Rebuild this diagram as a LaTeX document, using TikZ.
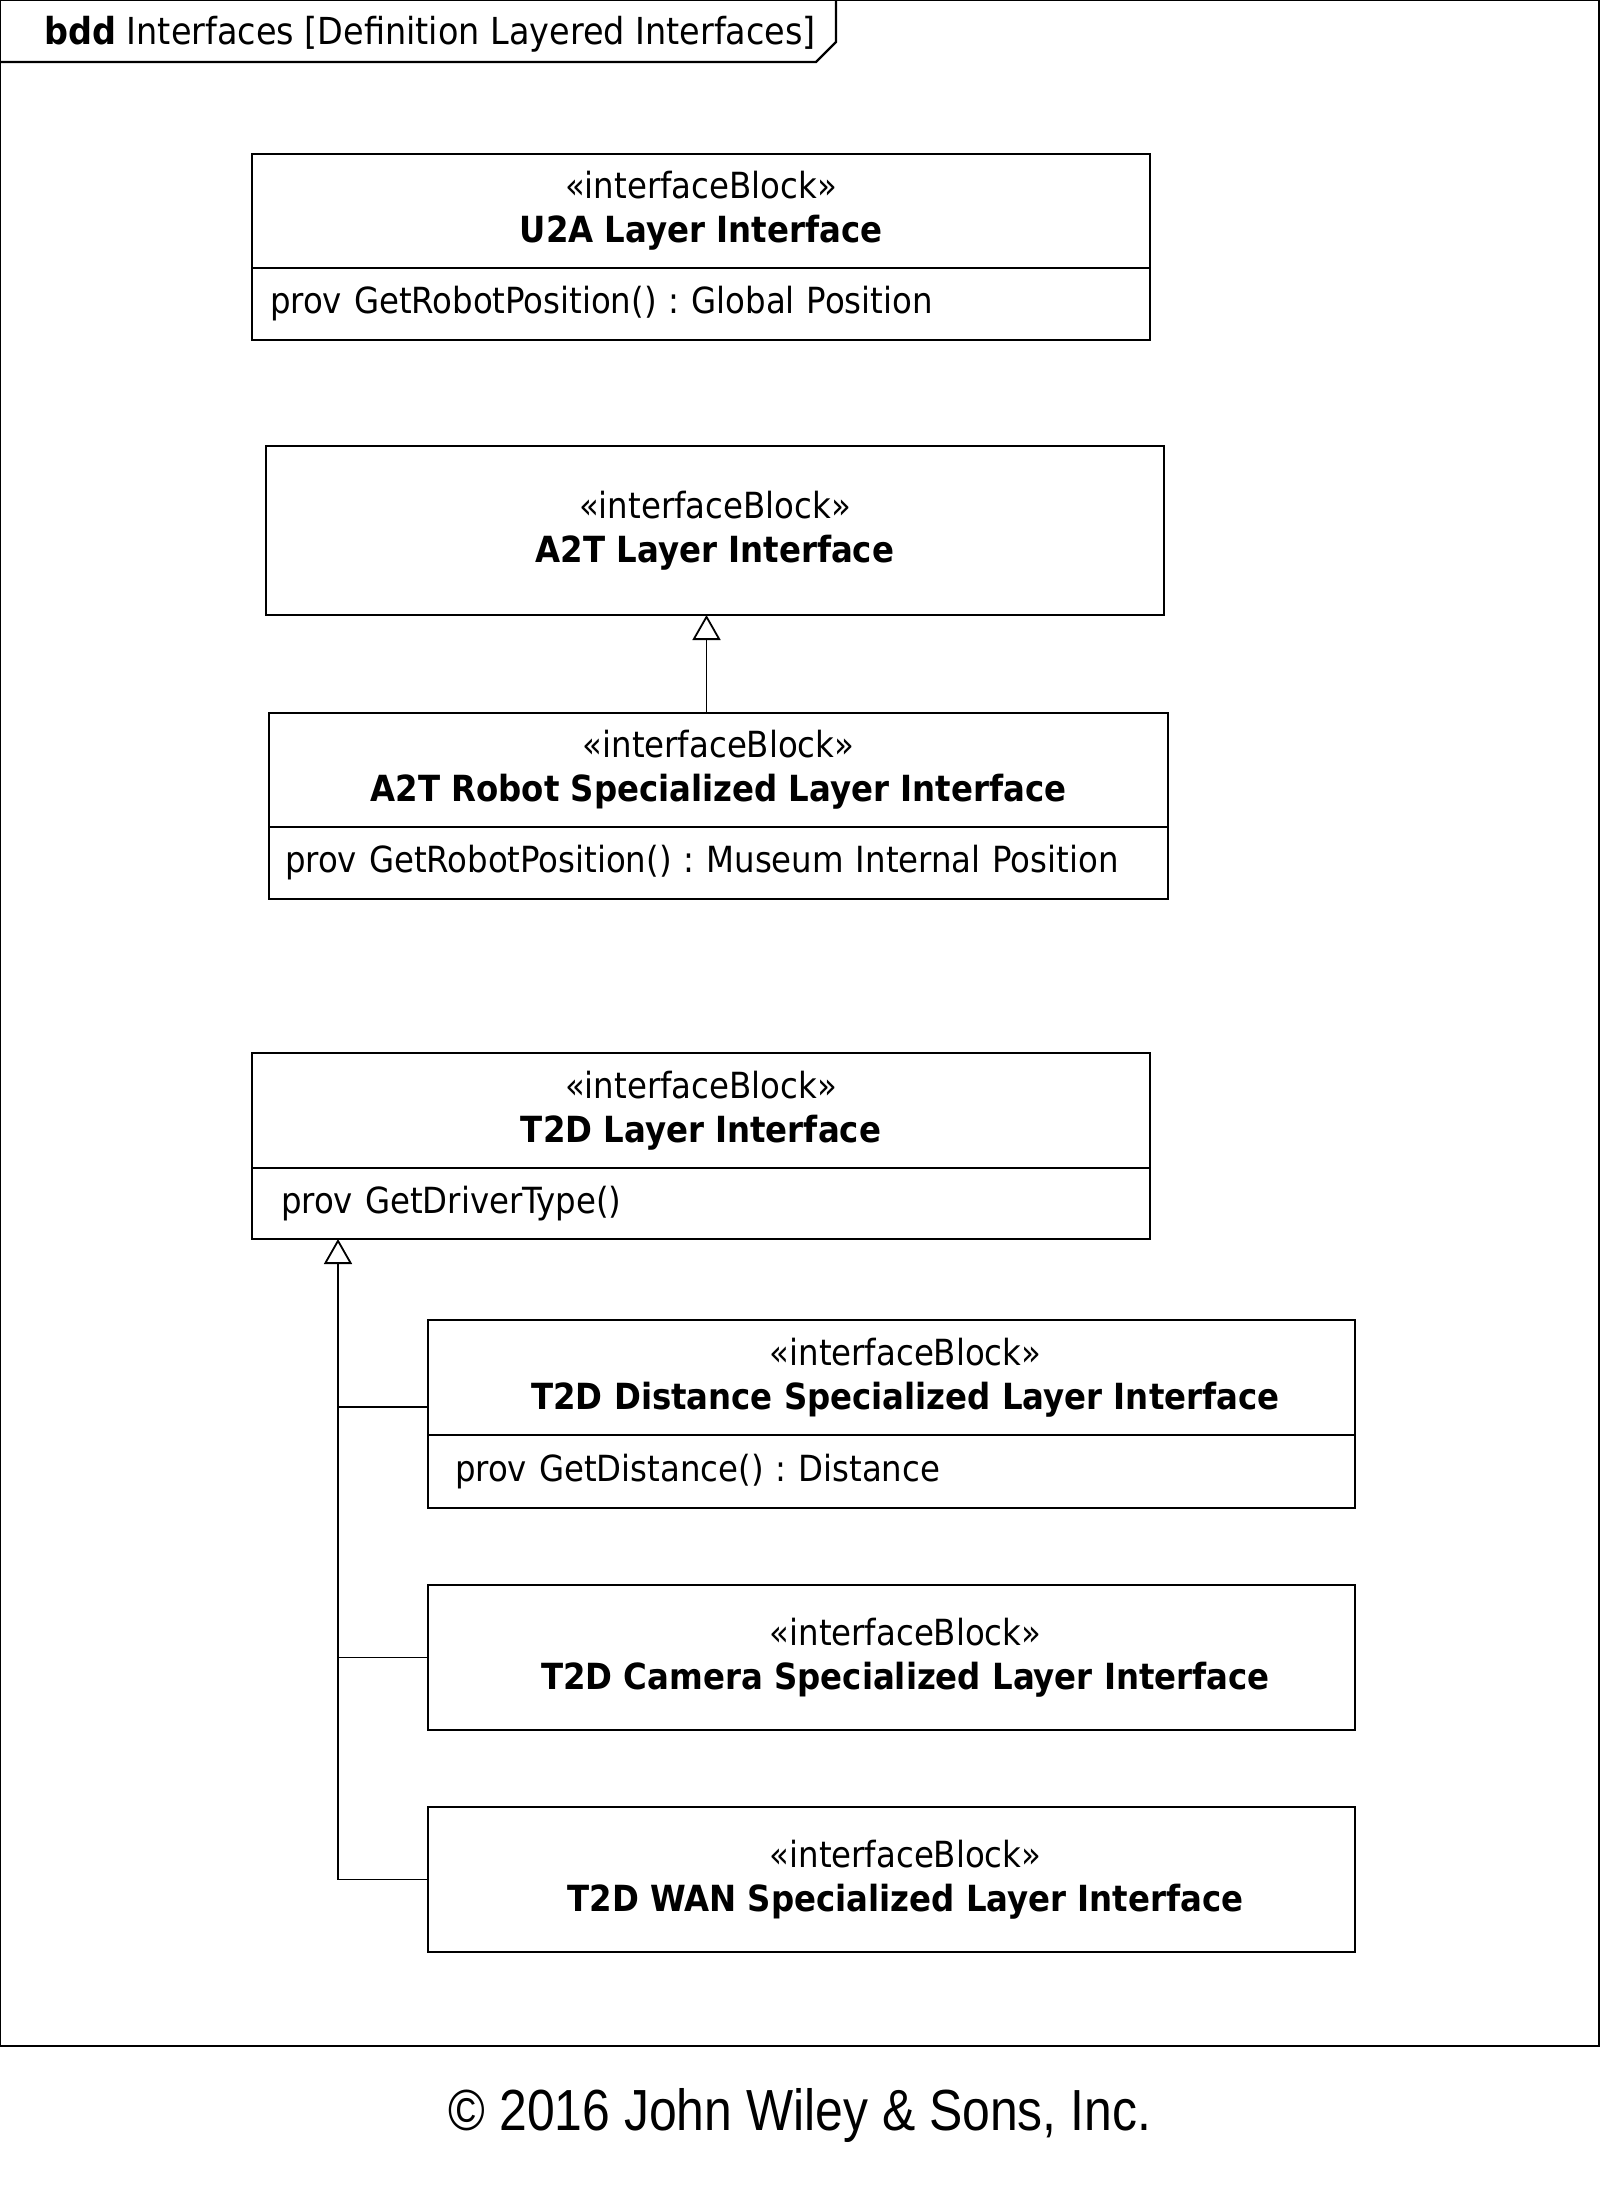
\documentclass[tikz,border=0pt]{standalone}
\usepackage{fontspec}
\setmainfont{DejaVu Sans Condensed}
\newfontfamily\wileyfont{Liberation Sans}
\usetikzlibrary{arrows.meta,positioning}
\frenchspacing

\begin{document}
\begin{tikzpicture}[x=0.5pt,y=-0.5pt,
		blk/.style={draw,line width=1pt,minimum width=449pt,inner sep=0pt,outer sep=0pt,align=center,
			font=\fontsize{18}{22}\selectfont},
		ops/.style={draw,line width=1pt,minimum width=449pt,minimum height=36pt,inner sep=0pt,outer sep=0pt,
			align=left,font=\fontsize{18}{22}\selectfont},
		gen/.style={-{Triangle[open,length=12.5pt,width=14pt]},line width=0.9pt}]
	\useasboundingbox (0,0) rectangle (1600,2193);

	% frame and tab
	\draw[line width=1.4pt] (0,0) rectangle (1599,2046);
	\draw[line width=1.1pt] (0,62) -- (816,62) -- (836,42) -- (836,0);
	\node[anchor=west,inner sep=0pt,font=\fontsize{18.6}{22}\selectfont] (title) at (44,34)
		{\textbf{bdd} Interfaces [Definition Layered Interfaces]};

	% U2A
	\node[blk,minimum height=57pt] (u2a) at (701,211)
		{«interfaceBlock»\\\textbf{U2A Layer Interface}};
	\node[ops,text width=431pt,below=0pt of u2a] (u2aops)
		{prov GetRobotPosition() : Global Position};

	% A2T
	\node[blk,minimum height=84.5pt] (a2t) at (715,530.5)
		{«interfaceBlock»\\\textbf{A2T Layer Interface}};
	\node[blk,minimum width=449.5pt,minimum height=57pt] (rob) at (718.5,770)
		{«interfaceBlock»\\\textbf{A2T Robot Specialized Layer Interface}};
	\node[ops,minimum width=449.5pt,text width=433.5pt,below=0pt of rob] (robops)
		{\mbox{prov GetRobotPosition() : Museum Internal Position}};
	\coordinate (robtop) at ([xshift=-6pt]rob.north);
	\draw[gen] (robtop) -- (robtop |- a2t.south);

	% T2D
	\node[blk,minimum height=57.5pt] (t2d) at (701,1110.5)
		{«interfaceBlock»\\\textbf{T2D Layer Interface}};
	\node[ops,minimum height=35.5pt,text width=420pt,below=0pt of t2d] (t2dops)
		{prov GetDriverType()};
	\node[blk,minimum width=463.5pt,minimum height=57.5pt] (dist) at (891.5,1377.5)
		{\hspace*{14pt}«interfaceBlock»\\\hspace*{14pt}\textbf{T2D Distance Specialized Layer Interface}};
	\node[ops,minimum width=463.5pt,minimum height=36.5pt,text width=436.5pt,below=0pt of dist] (distops)
		{prov GetDistance() : Distance};
	\node[blk,minimum width=463.5pt,minimum height=72.5pt] (cam) at (891.5,1657.5)
		{\hspace*{14pt}«interfaceBlock»\\\hspace*{14pt}\textbf{T2D Camera Specialized Layer Interface}};
	\node[blk,minimum width=463.5pt,minimum height=72.5pt] (wan) at (891.5,1879.5)
		{\hspace*{14pt}«interfaceBlock»\\\hspace*{14pt}\textbf{T2D WAN Specialized Layer Interface}};

	\coordinate (trunk) at ([xshift=-45pt]wan.west);
	\draw[line width=0.9pt] (wan.west) -- (trunk);
	\draw[line width=0.9pt] (cam.west) -- (cam.west -| trunk);
	\draw[line width=0.9pt] ([yshift=14pt]dist.south west) -- ++(-45pt,0);
	\draw[gen] (trunk) -- (trunk |- t2dops.south);

	\node[font=\wileyfont\fontsize{29}{34}\selectfont] (copy) at (800,2115)
		{\scalebox{0.86}[1]{© 2016 John Wiley \& Sons, Inc.}};
\end{tikzpicture}
\end{document}
